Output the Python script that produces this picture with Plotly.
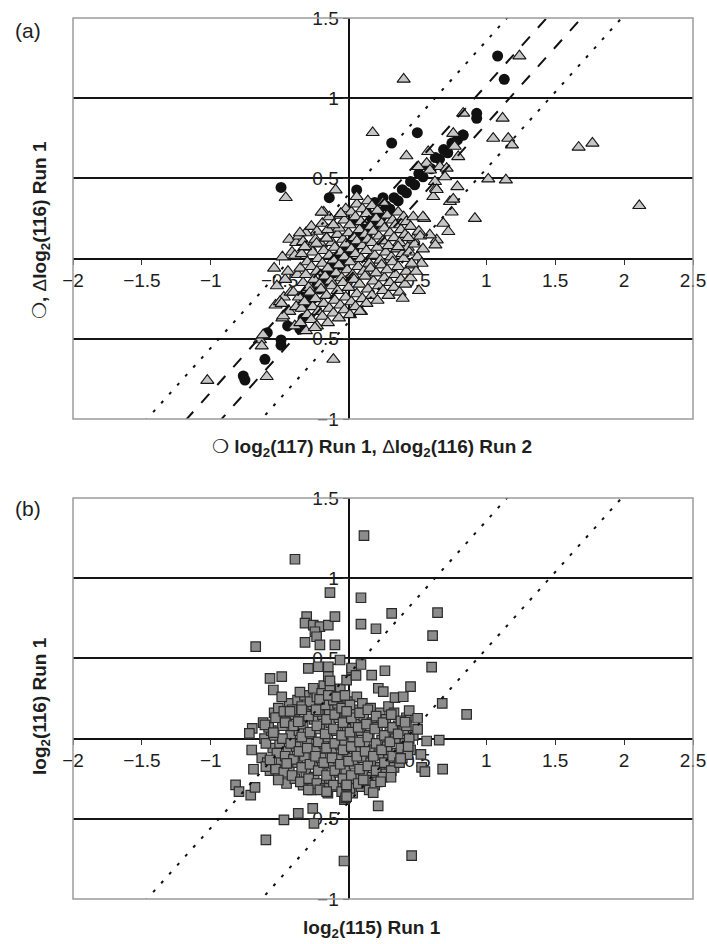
import plotly.graph_objects as go

# ---------------- data ----------------
x_ticks = [-2, -1.5, -1, -0.5, 0, 0.5, 1, 1.5, 2, 2.5]
y_ticks = [-1, -0.5, 0, 0.5, 1, 1.5]

# fitted-band lines y = slope*x + offset
band_slope = 0.957
dashed_offsets = [0.124, -0.118]
dotted_offsets = [0.40, -0.397]
line_x = [-2.0, 2.5]

# panel (a): circles = log2(117) Run 1 vs log2(116) Run 1
circles_a = [
    (-0.49, 0.444), (-0.14, 0.38), (0.059, 0.428), (0.313, 0.72), (0.499, 0.785),
    (1.082, 1.263), (1.13, 1.118), (0.93, 0.906), (0.93, 0.875), (0.832, 0.77),
    (-0.764, -0.732), (-0.752, -0.757), (-0.607, -0.628), (-0.59, -0.462),
    (-0.49, -0.507), (-0.49, -0.54), (-0.442, -0.42), (-0.353, -0.44), (-0.33, -0.372),
    (-0.36, -0.30), (-0.33, -0.24), (-0.31, -0.28), (-0.28, -0.20), (-0.26, -0.25),
    (-0.23, -0.15), (-0.21, -0.19), (-0.18, -0.10), (-0.16, -0.14), (-0.13, -0.05),
    (-0.11, -0.09), (-0.08, 0.00), (-0.06, -0.04), (-0.03, 0.05), (-0.01, 0.01),
    (0.02, 0.10), (0.04, 0.06), (0.07, 0.15), (0.09, 0.11), (0.12, 0.20), (0.14, 0.16),
    (0.17, 0.25), (0.19, 0.21), (0.22, 0.29), (0.24, 0.26), (0.27, 0.33), (0.30, 0.31),
    (0.33, 0.38), (0.36, 0.36), (0.39, 0.43), (0.42, 0.41), (0.45, 0.48), (0.48, 0.46),
    (0.51, 0.53), (0.54, 0.51), (0.57, 0.58), (0.60, 0.56), (0.63, 0.63), (0.66, 0.62),
    (0.69, 0.68), (0.72, 0.66), (0.75, 0.72), (0.79, 0.74), (0.83, 0.77),
    (0.05, 0.24), (0.13, 0.29), (0.19, 0.35), (0.25, 0.38),
]

# panel (a): triangles = log2(116) Run 2 vs log2(116) Run 1
triangles_a = [
    (-0.53, -0.29), (-0.52, -0.17), (-0.54, -0.06),
    (-0.48, -0.37), (-0.47, -0.24), (-0.46, -0.13), (-0.48, 0.01),
    (-0.43, -0.33), (-0.42, -0.21), (-0.44, -0.08), (-0.41, 0.04), (-0.43, 0.12),
    (-0.39, -0.42), (-0.38, -0.30), (-0.40, -0.21), (-0.37, -0.10), (-0.39, 0.02), (-0.38, 0.10),
    (-0.35, -0.40), (-0.34, -0.31), (-0.36, -0.24), (-0.33, -0.15), (-0.35, -0.06), (-0.34, 0.03), (-0.36, 0.14),
    (-0.31, -0.45), (-0.30, -0.35), (-0.32, -0.27), (-0.29, -0.18), (-0.31, -0.10), (-0.30, -0.02), (-0.28, 0.07), (-0.31, 0.16),
    (-0.27, -0.38), (-0.26, -0.30), (-0.28, -0.21), (-0.25, -0.13), (-0.27, -0.05), (-0.26, 0.04), (-0.24, 0.12), (-0.27, 0.20),
    (-0.23, -0.42), (-0.22, -0.33), (-0.24, -0.25), (-0.21, -0.16), (-0.23, -0.08), (-0.22, 0.00), (-0.20, 0.09), (-0.23, 0.17),
    (-0.19, -0.36), (-0.18, -0.28), (-0.20, -0.19), (-0.17, -0.11), (-0.19, -0.03), (-0.18, 0.05), (-0.16, 0.13), (-0.19, 0.22), (-0.18, 0.29),
    (-0.15, -0.40), (-0.14, -0.31), (-0.16, -0.23), (-0.13, -0.14), (-0.15, -0.06), (-0.14, 0.02), (-0.12, 0.10), (-0.15, 0.18), (-0.14, 0.26),
    (-0.11, -0.34), (-0.10, -0.26), (-0.12, -0.17), (-0.09, -0.09), (-0.11, -0.01), (-0.10, 0.07), (-0.08, 0.15), (-0.11, 0.21),
    (-0.07, -0.37), (-0.06, -0.29), (-0.08, -0.20), (-0.05, -0.12), (-0.07, -0.04), (-0.06, 0.04), (-0.04, 0.12), (-0.07, 0.19), (-0.06, 0.27),
    (-0.03, -0.32), (-0.02, -0.24), (-0.04, -0.15), (-0.01, -0.07), (-0.03, 0.01), (-0.02, 0.09), (0.00, 0.16), (-0.03, 0.24), (-0.02, 0.31),
    (0.01, -0.35), (0.02, -0.27), (0.00, -0.18), (0.03, -0.10), (0.01, -0.02), (0.02, 0.06), (0.04, 0.13), (0.01, 0.21), (0.02, 0.29),
    (0.05, -0.30), (0.06, -0.22), (0.04, -0.13), (0.07, -0.05), (0.05, 0.03), (0.06, 0.11), (0.08, 0.18), (0.05, 0.26), (0.06, 0.34),
    (0.09, -0.33), (0.10, -0.25), (0.08, -0.16), (0.11, -0.08), (0.09, 0.00), (0.10, 0.08), (0.12, 0.15), (0.09, 0.23), (0.10, 0.31),
    (0.13, -0.28), (0.14, -0.19), (0.12, -0.11), (0.15, -0.03), (0.13, 0.05), (0.14, 0.12), (0.16, 0.20), (0.13, 0.28), (0.14, 0.36),
    (0.17, -0.23), (0.18, -0.14), (0.16, -0.06), (0.19, 0.02), (0.17, 0.10), (0.18, 0.17), (0.20, 0.25), (0.17, 0.33),
    (0.21, -0.26), (0.22, -0.17), (0.20, -0.09), (0.23, -0.01), (0.21, 0.07), (0.22, 0.14), (0.24, 0.22), (0.21, 0.30),
    (0.25, -0.20), (0.26, -0.12), (0.24, -0.04), (0.27, 0.04), (0.25, 0.11), (0.26, 0.19), (0.28, 0.27), (0.25, 0.35),
    (0.29, -0.23), (0.30, -0.15), (0.28, -0.07), (0.31, 0.01), (0.29, 0.08), (0.30, 0.16), (0.32, 0.24),
    (0.33, -0.18), (0.34, -0.10), (0.32, -0.02), (0.35, 0.06), (0.33, 0.13), (0.34, 0.21), (0.36, 0.29),
    (0.37, -0.21), (0.38, -0.13), (0.36, -0.05), (0.39, 0.03), (0.37, 0.10), (0.38, 0.18), (0.40, 0.26),
    (0.41, -0.16), (0.42, -0.08), (0.40, 0.00), (0.43, 0.07), (0.41, 0.15), (0.42, 0.23),
    (0.45, -0.12), (0.46, -0.04), (0.44, 0.04), (0.47, 0.12), (0.45, 0.20),
    (0.49, -0.08), (0.50, 0.01), (0.48, 0.09), (0.51, 0.17),
    (0.53, -0.03), (0.54, 0.06), (0.52, 0.14),
    # scattered points
    (-0.456, 0.38), (-0.094, 0.428), (-0.195, 0.289), (-0.057, 0.28), (-0.11, 0.21),
    (-0.353, 0.16), (-0.33, 0.105), (-0.317, 0.074), (-0.232, 0.095), (-0.159, 0.127),
    (0.40, 1.118), (1.24, 1.263), (0.832, 0.906), (1.118, 0.875), (0.175, 0.785),
    (1.05, 0.75), (1.159, 0.75), (1.186, 0.708), (1.67, 0.694), (1.77, 0.719), (2.11, 0.33),
    (0.42, 0.64), (0.76, 0.78), (0.77, 0.70), (0.796, 0.635), (1.014, 0.496), (1.142, 0.49),
    (0.917, 0.25), (0.79, 0.448), (0.736, 0.355), (0.76, 0.37), (0.748, 0.29), (0.687, 0.22),
    (0.724, 0.168), (0.64, 0.116), (0.59, 0.147), (0.634, 0.438), (0.615, 0.386), (0.433, 0.13),
    (0.458, -0.03), (0.578, 0.667), (0.567, 0.594), (0.506, 0.573), (0.591, 0.552), (0.70, 0.51),
    (0.549, 0.25), (0.47, 0.26), (0.36, 0.074), (0.059, 0.386), (-0.055, 0.28),
    (0.663, 0.573), (0.712, 0.563), (0.627, 0.48), (0.64, 0.43), (0.54, 0.26), (0.63, 0.085),
    (-0.498, -0.269), (-0.643, -0.507), (-0.63, -0.545), (-0.594, -0.736), (-0.11, -0.628),
    (0.083, -0.33), (-0.244, -0.43), (-1.025, -0.76), (-0.62, -0.476), (-0.486, -0.28),
    (-0.474, -0.357), (0.393, -0.248), (0.511, -0.2),
]

# panel (b): squares = log2(115) Run 1 vs log2(116) Run 1
squares_b = [
    (-0.63, -0.12), (-0.61, 0.00), (-0.62, 0.10),
    (-0.57, -0.20), (-0.55, -0.06), (-0.56, 0.05), (-0.54, 0.16),
    (-0.51, -0.24), (-0.49, -0.14), (-0.50, -0.03), (-0.48, 0.08), (-0.51, 0.19),
    (-0.45, -0.28), (-0.43, -0.18), (-0.44, -0.08), (-0.42, 0.02), (-0.45, 0.12), (-0.43, 0.22),
    (-0.39, -0.25), (-0.37, -0.15), (-0.38, -0.05), (-0.36, 0.05), (-0.39, 0.15), (-0.37, 0.24),
    (-0.33, -0.29), (-0.31, -0.21), (-0.32, -0.11), (-0.30, -0.01), (-0.33, 0.09), (-0.31, 0.19), (-0.32, 0.27),
    (-0.27, -0.32), (-0.25, -0.24), (-0.26, -0.16), (-0.24, -0.07), (-0.27, 0.03), (-0.25, 0.12), (-0.26, 0.21), (-0.24, 0.30),
    (-0.21, -0.28), (-0.19, -0.20), (-0.20, -0.12), (-0.18, -0.03), (-0.21, 0.06), (-0.19, 0.15), (-0.20, 0.24), (-0.18, 0.33),
    (-0.15, -0.34), (-0.13, -0.25), (-0.14, -0.16), (-0.12, -0.08), (-0.15, 0.01), (-0.13, 0.10), (-0.14, 0.18), (-0.12, 0.27),
    (-0.09, -0.30), (-0.07, -0.21), (-0.08, -0.12), (-0.06, -0.04), (-0.09, 0.05), (-0.07, 0.13), (-0.08, 0.22), (-0.06, 0.31),
    (-0.03, -0.38), (-0.01, -0.29), (-0.02, -0.20), (0.00, -0.12), (-0.03, -0.03), (-0.01, 0.06), (-0.02, 0.14), (0.00, 0.23),
    (0.03, -0.34), (0.05, -0.25), (0.04, -0.16), (0.06, -0.08), (0.03, 0.01), (0.05, 0.09), (0.04, 0.18), (0.06, 0.26),
    (0.09, -0.30), (0.11, -0.21), (0.10, -0.12), (0.12, -0.03), (0.09, 0.05), (0.11, 0.14), (0.10, 0.22),
    (0.15, -0.32), (0.17, -0.24), (0.16, -0.15), (0.18, -0.07), (0.15, 0.02), (0.17, 0.10), (0.16, 0.19),
    (0.21, -0.27), (0.23, -0.18), (0.22, -0.10), (0.24, -0.01), (0.21, 0.07), (0.23, 0.16),
    (0.27, -0.22), (0.29, -0.13), (0.28, -0.05), (0.30, 0.04), (0.27, 0.12), (0.29, 0.20),
    (0.33, -0.18), (0.35, -0.09), (0.34, 0.00), (0.36, 0.08), (0.33, 0.16),
    (0.39, -0.12), (0.41, -0.03), (0.40, 0.05), (0.42, 0.13),
    (0.45, -0.07), (0.47, 0.02),
    (-0.59, -0.15), (-0.60, -0.03), (-0.58, 0.07),
    (-0.53, -0.19), (-0.52, -0.09), (-0.54, 0.02), (-0.53, 0.13),
    (-0.47, -0.21), (-0.46, -0.11), (-0.48, 0.00), (-0.46, 0.10), (-0.47, 0.17),
    (-0.41, -0.23), (-0.40, -0.13), (-0.42, -0.03), (-0.40, 0.08), (-0.41, 0.18),
    (-0.35, -0.27), (-0.34, -0.18), (-0.36, -0.08), (-0.34, 0.01), (-0.35, 0.11), (-0.34, 0.20),
    (-0.29, -0.25), (-0.28, -0.16), (-0.30, -0.06), (-0.28, 0.04), (-0.29, 0.14), (-0.28, 0.23),
    (-0.23, -0.28), (-0.22, -0.20), (-0.24, -0.11), (-0.22, -0.02), (-0.23, 0.08), (-0.22, 0.17), (-0.23, 0.26),
    (-0.17, -0.31), (-0.16, -0.23), (-0.18, -0.15), (-0.16, -0.06), (-0.17, 0.03), (-0.16, 0.12), (-0.17, 0.21),
    (-0.11, -0.29), (-0.10, -0.20), (-0.12, -0.12), (-0.10, -0.03), (-0.11, 0.06), (-0.10, 0.15), (-0.11, 0.24),
    (-0.05, -0.33), (-0.04, -0.25), (-0.06, -0.16), (-0.04, -0.07), (-0.05, 0.02), (-0.04, 0.10), (-0.05, 0.19),
    (0.01, -0.31), (0.02, -0.23), (0.00, -0.14), (0.02, -0.05), (0.01, 0.04), (0.02, 0.13), (0.01, 0.21),
    (0.07, -0.28), (0.08, -0.19), (0.06, -0.11), (0.08, -0.02), (0.07, 0.07), (0.08, 0.16),
    (0.13, -0.26), (0.14, -0.17), (0.12, -0.08), (0.14, 0.01), (0.13, 0.09), (0.14, 0.18),
    (0.19, -0.29), (0.20, -0.20), (0.18, -0.11), (0.20, -0.03), (0.19, 0.06), (0.20, 0.14),
    (0.25, -0.24), (0.26, -0.15), (0.24, -0.07), (0.26, 0.02), (0.25, 0.10),
    (0.31, -0.20), (0.32, -0.11), (0.30, -0.02), (0.32, 0.07), (0.31, 0.15),
    (0.37, -0.15), (0.38, -0.06), (0.36, 0.03), (0.38, 0.11),
    (0.43, -0.10), (0.44, 0.00), (0.42, 0.08),
    # scattered points
    (-0.389, 1.118), (0.112, 1.265), (-0.135, 0.91), (0.09, 0.878), (0.313, 0.781),
    (0.646, 0.785), (0.09, 0.714), (0.199, 0.685), (0.61, 0.642), (-0.674, 0.573),
    (-0.304, 0.76), (-0.316, 0.72), (-0.256, 0.708), (-0.208, 0.698), (-0.147, 0.708),
    (-0.099, 0.76), (-0.244, 0.666), (-0.232, 0.635), (-0.316, 0.60), (-0.208, 0.584), (-0.099, 0.584),
    (-0.57, 0.376), (-0.485, 0.386), (-0.546, 0.303), (-0.485, 0.26), (-0.353, 0.29),
    (-0.256, 0.314), (-0.195, 0.282), (-0.292, 0.438), (-0.22, 0.448), (-0.147, 0.448),
    (-0.147, 0.386), (-0.062, 0.49), (0.022, 0.428), (-0.014, 0.365), (-0.135, 0.324), (-0.086, 0.26),
    (0.603, 0.445), (0.264, 0.423), (0.09, 0.462), (0.022, 0.44), (0.054, 0.394), (0.45, 0.324),
    (0.168, 0.396), (0.216, 0.314), (0.252, 0.293), (0.337, 0.255), (0.397, 0.261),
    (0.68, 0.22), (0.857, 0.151), (0.44, 0.174), (0.501, 0.127), (0.41, 0.102), (0.501, 0.058),
    (0.567, -0.015), (0.658, -0.009), (0.525, -0.098), (0.53, -0.18), (0.554, -0.206), (0.683, -0.19),
    (0.378, -0.123), (0.433, -0.05), (0.308, -0.241), (0.233, -0.269), (0.179, -0.337),
    (0.215, -0.42), (0.107, -0.258), (-0.014, -0.296), (-0.021, -0.369),
    (0.458, -0.73), (-0.033, -0.763),
    (-0.699, 0.064), (-0.72, 0.033), (-0.607, 0.085), (-0.546, 0.037), (-0.703, -0.071),
    (-0.69, -0.191), (-0.6, -0.175), (-0.51, -0.258), (-0.57, -0.133), (-0.449, -0.154),
    (-0.82, -0.289), (-0.795, -0.331), (-0.71, -0.352), (-0.679, -0.304), (-0.469, -0.507),
    (-0.365, -0.466), (-0.26, -0.435), (-0.251, -0.528), (-0.6, -0.632),
    (-0.292, -0.32), (-0.208, -0.32), (-0.159, -0.331), (-0.014, -0.362), (-0.014, -0.289),
    (-0.425, 0.17), (-0.34, 0.18), (-0.365, 0.105), (-0.236, 0.18), (-0.21, 0.245),
    (-0.147, 0.27), (-0.086, 0.26), (-0.026, 0.27), (-0.014, 0.17), (-0.135, 0.36),
]

circ_x = [p[0] for p in circles_a]
circ_y = [p[1] for p in circles_a]
tri_x = [p[0] for p in triangles_a]
tri_y = [p[1] for p in triangles_a]
sq_x = [p[0] for p in squares_b]
sq_y = [p[1] for p in squares_b]

# ---------------- layout geometry ----------------
W, H = 707, 944
ML, MR, MT, MB = 73, 14, 18, 45
PW = W - ML - MR
PH = H - MT - MB
panel_h = 401
dom_a = [1 - panel_h / PH, 1.0]
dom_b = [0.0, panel_h / PH]
XR = [-2, 2.5]
YR = [-1, 1.5]


def frac(v, r):
    return (v - r[0]) / (r[1] - r[0])


def px_x(px):
    return (px - ML) / PW


def px_y(py):
    return 1 - (py - MT) / PH


xpos_a = dom_a[0] + frac(0, YR) * (dom_a[1] - dom_a[0])
xpos_b = dom_b[0] + frac(0, YR) * (dom_b[1] - dom_b[0])
ypos = frac(0, XR)

FONT = "Liberation Sans, Arial, DejaVu Sans, sans-serif"
TXT = "#1e1e1e"
tickfont = dict(family=FONT, size=19, color=TXT)


def make_x(pos):
    return dict(domain=[0, 1], range=XR, anchor="free", position=pos,
                tickmode="array", tickvals=x_ticks, ticks="outside", ticklen=5,
                tickwidth=1, tickcolor="#333", showline=False, showgrid=False,
                zeroline=True, zerolinecolor="#111", zerolinewidth=1.5,
                tickfont=tickfont, layer="below traces", automargin=False,
                ticklabeloverflow="allow")


def make_y(dom):
    return dict(domain=dom, range=YR, anchor="free", position=ypos,
                tickmode="array", tickvals=y_ticks, ticks="outside", ticklen=6,
                tickwidth=1, tickcolor="#333", showline=False, showgrid=True,
                gridcolor="#151515", gridwidth=1.5, zeroline=True,
                zerolinecolor="#111", zerolinewidth=1.5, tickfont=tickfont,
                layer="below traces", automargin=False,
                ticklabeloverflow="allow")


fig = go.Figure()

# panel (a)
fig.add_trace(go.Scatter(x=circ_x, y=circ_y, mode="markers", xaxis="x", yaxis="y",
                         marker=dict(symbol="circle", size=11, color="#111111",
                                     line=dict(width=0))))
fig.add_trace(go.Scatter(x=tri_x, y=tri_y, mode="markers", xaxis="x", yaxis="y",
                         marker=dict(symbol="triangle-up", size=11.5, color="#c6c6c6",
                                     line=dict(width=1.1, color="#151515"))))
for off in dashed_offsets:
    fig.add_trace(go.Scatter(x=line_x, y=[band_slope * v + off for v in line_x],
                             mode="lines", xaxis="x", yaxis="y",
                             line=dict(color="#111", width=2, dash="12px,12px")))
for off in dotted_offsets:
    fig.add_trace(go.Scatter(x=line_x, y=[band_slope * v + off for v in line_x],
                             mode="lines", xaxis="x", yaxis="y",
                             line=dict(color="#111", width=2, dash="3px,9px")))

# panel (b)
fig.add_trace(go.Scatter(x=sq_x, y=sq_y, mode="markers", xaxis="x2", yaxis="y2",
                         marker=dict(symbol="square", size=9.5, color="#8c8c8c",
                                     line=dict(width=1.2, color="#2a2a2a"))))
for off in dotted_offsets:
    fig.add_trace(go.Scatter(x=line_x, y=[band_slope * v + off for v in line_x],
                             mode="lines", xaxis="x2", yaxis="y2",
                             line=dict(color="#111", width=2, dash="3px,9px")))

shapes = []
for xr, yr in (("x domain", "y domain"), ("x2 domain", "y2 domain")):
    shapes.append(dict(type="rect", xref=xr, yref=yr, x0=0, x1=1, y0=0, y1=1,
                       line=dict(color="#9c9c9c", width=1.5), layer="above"))

title_font = dict(family=FONT, size=19, color=TXT)


def ann(text, px, py, font, angle=0):
    return dict(text=text, x=px_x(px), y=px_y(py), xref="paper", yref="paper",
                xanchor="center", yanchor="middle", showarrow=False,
                textangle=angle, font=font)


annotations = [
    ann("(a)", 28, 30, dict(family=FONT, size=21, color=TXT)),
    ann("(b)", 28, 508, dict(family=FONT, size=21, color=TXT)),
    ann("<b>❍ log<sub>2</sub>(117) Run 1, </b>Δ<b>log<sub>2</sub>(116) Run 2</b>",
        372, 448, title_font),
    ann("<b>❍, </b>Δ<b>log<sub>2</sub>(116) Run 1</b>", 41, 230, title_font, -90),
    ann("<b>log<sub>2</sub>(115) Run 1</b>", 372, 929, title_font),
    ann("<b>log<sub>2</sub>(116) Run 1</b>", 41, 706, title_font, -90),
]

fig.update_layout(
    width=W, height=H,
    margin=dict(l=ML, r=MR, t=MT, b=MB),
    paper_bgcolor="white", plot_bgcolor="white",
    showlegend=False,
    xaxis=make_x(xpos_a), yaxis=make_y(dom_a),
    xaxis2=make_x(xpos_b), yaxis2=make_y(dom_b),
    shapes=shapes, annotations=annotations,
)

fig.write_html("out.html",
               config={"displayModeBar": False},
               post_script="document.body.style.margin='0';"
                           "document.body.style.padding='0';"
                           "document.documentElement.style.overflow='hidden';")
